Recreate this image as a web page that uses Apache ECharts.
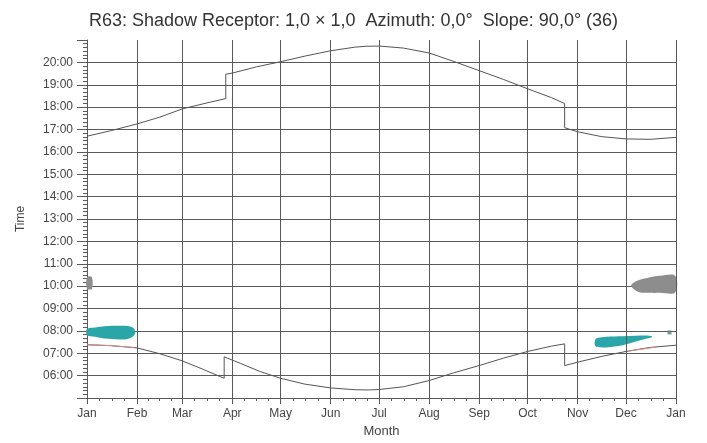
<!DOCTYPE html>
<html><head><meta charset="utf-8">
<script src="https://cdn.jsdelivr.net/npm/echarts@6/dist/echarts.min.js"></script>
<style>html,body{margin:0;padding:0;background:#fff}#c{width:707px;height:443px}</style>
</head><body><div id="c"></div>
<script>
// ---- data (x = day of year, y = hour of day) ----
const titleText = 'R63: Shadow Receptor: 1,0 \u00d7 1,0  Azimuth: 0,0\u00b0  Slope: 90,0\u00b0 (36)';
const monthLabels = ['Jan','Feb','Mar','Apr','May','Jun','Jul','Aug','Sep','Oct','Nov','Dec','Jan'];
const monthStarts = [0,31,59,90,120,151,181,212,243,273,304,334,365];
const hourTicks = [6,7,8,9,10,11,12,13,14,15,16,17,18,19,20];

const sunset = [[0,16.70],[15,16.95],[31,17.25],[45,17.55],[59,17.92],[75,18.20],[86,18.38],[86,19.47],[90,19.52],[105,19.80],[120,20.03],[135,20.28],[151,20.52],[166,20.68],[173,20.72],[181,20.73],[196,20.64],[212,20.42],[227,20.05],[243,19.63],[258,19.24],[273,18.82],[288,18.42],[296,18.16],[296,17.08],[304,16.90],[319,16.68],[334,16.58],[349,16.56],[365,16.65]];
const sunrise = [[0,7.38],[15,7.34],[31,7.24],[45,6.98],[59,6.66],[72,6.28],[85,5.88],[85,6.84],[95,6.55],[107,6.19],[120,5.88],[135,5.62],[151,5.45],[166,5.37],[175,5.36],[181,5.38],[196,5.50],[212,5.78],[227,6.12],[243,6.45],[258,6.78],[273,7.08],[288,7.32],[296,7.42],[296,6.45],[304,6.60],[319,6.86],[334,7.08],[349,7.26],[365,7.36]];
const sunriseMarkJan = [[0,7.38],[15,7.34],[29,7.26]];
const sunriseMarkDec = [[336,7.10],[353,7.28]];

// shadow periods: [day, latest time, earliest time]
const cyanJan = [[0,8.08,7.80],[5,8.15,7.74],[11,8.21,7.66],[20,8.23,7.62],[25,8.22,7.64],[28.5,8.14,7.75],[30,7.98,7.92]];
const cyanDec = [[315,7.62,7.32],[318,7.70,7.27],[322,7.74,7.26],[332,7.76,7.36],[340,7.78,7.52],[347,7.79,7.66],[350,7.76,7.72]];
const grayDec = [[337.5,10.08,9.96],[341.7,10.26,9.74],[349,10.40,9.70],[355,10.46,9.70],[364.5,10.46,9.72]];
const grayJan = [[0,10.40,9.88],[3,10.40,9.88]];
const darkDot = [[361,7.93]];

// ---- chart ----
const quarterTicks = [];
for (let i = 0; i < monthStarts.length - 1; i++) {
  const a = monthStarts[i], b = monthStarts[i+1];
  for (let k = 1; k < 4; k++) quarterTicks.push(a + (b - a) * k / 4);
}
const lineCol = '#5a5a5a';
const font = 'Liberation Sans, Arial, sans-serif';

function blobSeries(points, color) {
  return {
    type: 'custom',
    coordinateSystem: 'cartesian2d',
    data: [points[0]],
    silent: true,
    z: 3,
    renderItem: function (params, api) {
      const top = points.map(p => api.coord([p[0], p[1]]));
      const bot = points.slice().reverse().map(p => api.coord([p[0], p[2]]));
      return { type: 'polygon', shape: { points: top.concat(bot), smooth: 0.35 }, style: { fill: color } };
    }
  };
}

const chart = echarts.init(document.getElementById('c'), null, { renderer: 'canvas' });
chart.setOption({
  animation: false,
  backgroundColor: '#fff',
  title: { text: titleText, left: 'center', top: 7, textStyle: { fontFamily: font, fontSize: 18, fontWeight: 'normal', color: '#333' } },
  grid: { left: 87, right: 31, top: 40, bottom: 40, containLabel: false },
  xAxis: [{
    type: 'value', min: 0, max: 365,
    name: 'Month', nameLocation: 'middle', nameGap: 27,
    nameTextStyle: { fontFamily: font, fontSize: 13, color: '#444' },
    axisLine: { show: true, lineStyle: { color: lineCol, width: 1 } },
    axisTick: { show: true, customValues: monthStarts, length: 6, lineStyle: { color: lineCol } },
    axisLabel: { customValues: monthStarts, margin: 10, fontFamily: font, fontSize: 12, color: '#444',
      formatter: v => { const i = monthStarts.indexOf(Math.round(v)); return i >= 0 ? monthLabels[i] : ''; } },
    splitLine: { show: false }
  }, {
    type: 'value', min: 0, max: 365, position: 'bottom',
    axisLine: { show: false },
    axisTick: { show: true, customValues: quarterTicks, length: 3, lineStyle: { color: lineCol } },
    axisLabel: { show: false }, splitLine: { show: false }
  }],
  yAxis: {
    type: 'value', min: 5, max: 21, interval: 1,
    name: 'Time', nameLocation: 'middle', nameGap: 60, nameRotate: 90,
    nameTextStyle: { fontFamily: font, fontSize: 12, color: '#444' },
    axisLine: { show: true, lineStyle: { color: lineCol, width: 1 } },
    axisTick: { show: true, length: 10, lineStyle: { color: lineCol } },
    minorTick: { show: true, splitNumber: 6, length: 4, lineStyle: { color: lineCol } },
    axisLabel: { margin: 14, fontFamily: font, fontSize: 12, color: '#444',
      formatter: v => (hourTicks.indexOf(v) < 0 ? '' : (v < 10 ? '0' : '') + v + ':00') },
    splitLine: { show: true, showMinLine: false, showMaxLine: false, lineStyle: { color: lineCol, width: 1 } }
  },
  series: [
    { type: 'line', data: [], silent: true, z: 1,
      markLine: { silent: true, symbol: 'none', label: { show: false },
        lineStyle: { color: lineCol, width: 1, type: 'solid' },
        data: monthStarts.slice(1).map(v => ({ xAxis: v })) } },
    blobSeries(cyanJan, '#2aa6a9'),
    blobSeries(cyanDec, '#2aa6a9'),
    blobSeries(grayDec, '#8d8d8d'),
    blobSeries(grayJan, '#8d8d8d'),
    { type: 'line', data: sunset, showSymbol: false, silent: true, z: 4, lineStyle: { color: '#555', width: 1 } },
    { type: 'line', data: sunrise, showSymbol: false, silent: true, z: 4, lineStyle: { color: '#555', width: 1 } },
    { type: 'line', data: sunriseMarkJan, showSymbol: false, silent: true, z: 5, lineStyle: { color: '#e08a8a', width: 1 } },
    { type: 'line', data: sunriseMarkDec, showSymbol: false, silent: true, z: 5, lineStyle: { color: '#e08a8a', width: 1 } },
    { type: 'scatter', data: darkDot, symbol: 'rect', symbolSize: 4, silent: true, z: 5, itemStyle: { color: '#4f7f82' } }
  ]
});
</script>
</body></html>
